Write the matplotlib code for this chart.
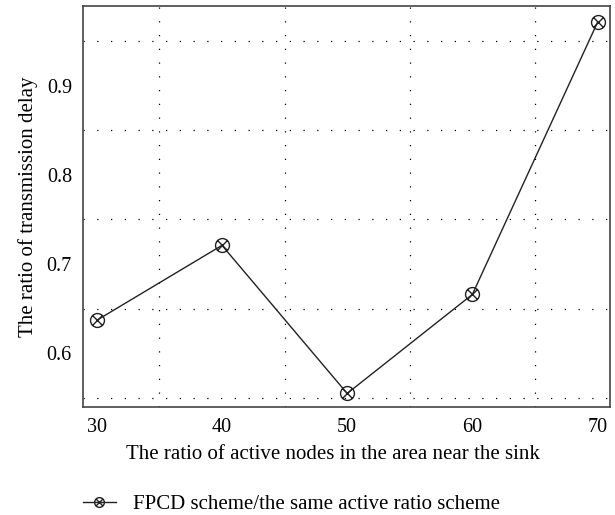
import matplotlib
matplotlib.use('Agg')
from matplotlib import pyplot as plt
from matplotlib.path import Path
from matplotlib.lines import Line2D
import numpy as np

ratio_active = [30, 40, 50, 60, 70]
delay_ratio = [0.637, 0.721, 0.555, 0.666, 0.971]
serie_name = 'FPCD scheme/the same active ratio scheme'

plt.rcParams['font.family'] = ['Liberation Serif', 'DejaVu Serif']

# Kreis mit Kreuz als Marker
kreis = Path.unit_circle()
s = np.sqrt(0.5)
kreuz = Path([(-s, -s), (s, s), (-s, s), (s, -s)],
             [Path.MOVETO, Path.LINETO, Path.MOVETO, Path.LINETO])
otimes = Path.make_compound_path(kreis, kreuz)

fig = plt.figure(figsize=(6.15, 5.15), dpi=100)
ax = fig.add_axes([0.135, 0.21, 0.857, 0.778])
ax.plot(ratio_active, delay_ratio, '-', color='#222222', linewidth=1.0,
        marker=otimes, markersize=10, markerfacecolor='none',
        markeredgecolor='#222222', markeredgewidth=1.0)

ax.set_xlim(28.9, 71.0)
ax.set_ylim(0.54, 0.989)
ax.set_xticks([30, 40, 50, 60, 70])
ax.set_yticks([0.6, 0.7, 0.8, 0.9])
ax.set_xticks([35, 45, 55, 65], minor=True)
ax.set_yticks([0.55, 0.65, 0.75, 0.85, 0.95], minor=True)
ax.grid(which='minor', linestyle=(0, (1, 10)), color='black', linewidth=0.9)
ax.tick_params(which='both', length=0, labelsize=14.5, pad=8)
for sp in ax.spines.values():
    sp.set_color('#444444')
    sp.set_linewidth(1.2)

ax.set_xlabel('The ratio of active nodes in the area near the sink', fontsize=15,
              labelpad=6, x=0.474)
ax.set_ylabel('The ratio of transmission delay', fontsize=15, labelpad=6)

handle = Line2D([], [], color='#222222', linewidth=1.0, marker=otimes, markersize=7,
                markerfacecolor='none', markeredgecolor='#222222')
fig.legend([handle], [serie_name], loc='center left', bbox_to_anchor=(0.104, 0.02),
           frameon=False, fontsize=15, handlelength=1.6, handletextpad=0.8)

fig.savefig('out.png', dpi=100)
